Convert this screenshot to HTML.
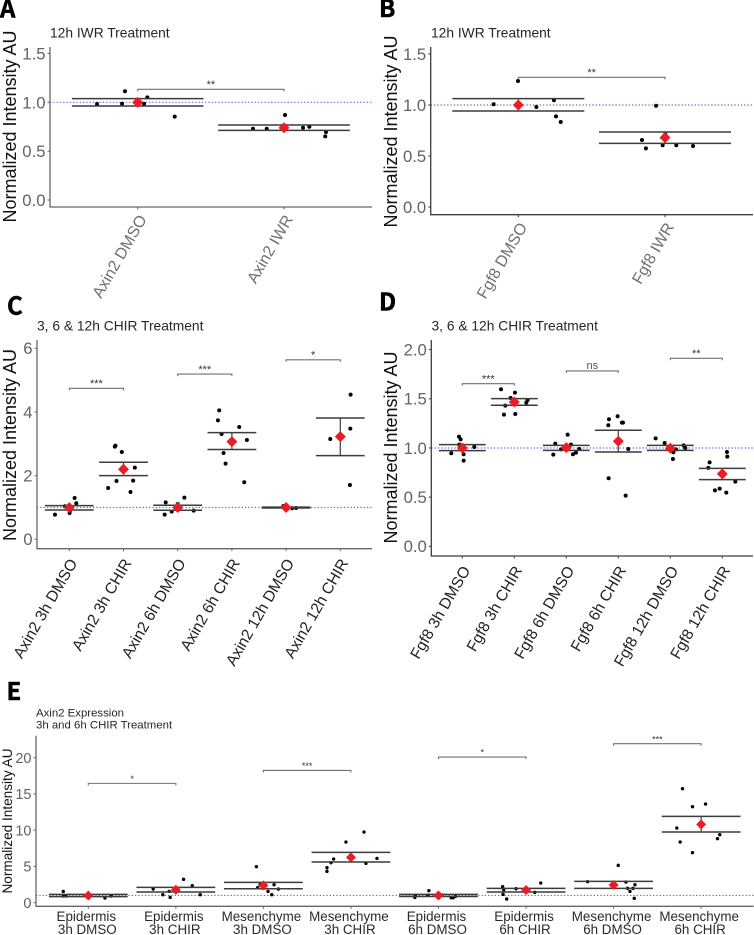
<!DOCTYPE html>
<html lang="en">
<head>
<meta charset="utf-8">
<title>Normalized intensity panels</title>
<style>
html,body{margin:0;padding:0;background:#fff;}
svg{display:block;font-family:"Liberation Sans",sans-serif;filter:blur(0.35px);}
</style>
</head>
<body>
<svg id="figure" width="754" height="935" viewBox="0 0 754 935" xmlns="http://www.w3.org/2000/svg"></svg>
<script>
// ---------- Panel A ----------
const aCategories = ["Axin2 DMSO", "Axin2 IWR"];
const aTicks = [0, 0.5, 1, 1.5];
const aTickLabels = ["0.0", "0.5", "1.0", "1.5"];
const aJitter = [[-0.278,-0.107,-0.087,0.043,0.066,0.253],[-0.212,-0.118,0.007,0.13,0.173,0.287,0.282]];
const aValues = [[0.983,0.986,1.113,0.986,1.051,0.853],[0.73,0.73,0.87,0.74,0.75,0.696,0.652]];
const aMeans = [1.0,0.74];
const aUpper = [1.038,0.768];
const aLower = [0.962,0.713];
const aSigPairs = [[0,1]];
const aSigHeights = [1.133];
const aSigLabels = ["**"];

// ---------- Panel B ----------
const bCategories = ["Fgf8 DMSO", "Fgf8 IWR"];
const bTicks = [0, 0.5, 1, 1.5];
const bTickLabels = ["0.0", "0.5", "1.0", "1.5"];
const bJitter = [[-0.168,-0.002,0.123,0.243,0.257,0.289],[-0.061,0.002,-0.157,-0.13,-0.016,0.077,0.191]];
const bValues = [[1.007,1.235,0.98,1.046,0.889,0.833],[0.993,0.712,0.657,0.575,0.605,0.605,0.598]];
const bMeans = [1.0,0.68];
const bUpper = [1.062,0.735];
const bLower = [0.941,0.624];
const bSigPairs = [[0,1]];
const bSigHeights = [1.271];
const bSigLabels = ["**"];

// ---------- Panel C ----------
const cCategories = ["Axin2 3h DMSO","Axin2 3h CHIR","Axin2 6h DMSO","Axin2 6h CHIR","Axin2 12h DMSO","Axin2 12h CHIR"];
const cTicks = [0,2,4,6];
const cTickLabels = ["0","2","4","6"];
const cJitter = [
 [-0.264,-0.08,0.098,0.129,0.025,0.012,0.006],
 [-0.283,-0.129,0.129,0.178,0.209,-0.031,-0.148,-0.16],
 [-0.24,-0.221,-0.111,0,0.012,0.123,0.295],
 [-0.234,-0.258,-0.191,0.135,0.277,-0.154,-0.117,0.228],
 [-0.049,0.111,0.185],
 [0.19,0.185,-0.185,0.178]];
const cValues = [
 [0.775,1.037,1.298,1.131,1.005,0.9,0.827],
 [1.613,1.832,1.487,1.843,2.251,2.743,2.942,2.911],
 [0.775,1.162,0.869,1.11,1.026,1.309,0.9],
 [4.052,3.738,3.309,3.529,3.12,2.712,2.377,1.791],
 [1.047,0.974,0.984],
 [4.545,3.476,3.152,1.707]];
const cMeans = [0.995,2.2,1.0,3.07,1.0,3.225];
const cUpper = [1.058,2.42,1.068,3.35,1.01,3.81];
const cLower = [0.92,2.0,0.911,2.82,0.985,2.63];
const cSigPairs = [[0,1],[2,3],[4,5]];
const cSigHeights = [4.743,5.19,5.64];
const cSigLabels = ["***","***","*"];

// ---------- Panel D ----------
const dCategories = ["Fgf8 3h DMSO","Fgf8 3h CHIR","Fgf8 6h DMSO","Fgf8 6h CHIR","Fgf8 12h DMSO","Fgf8 12h CHIR"];
const dTicks = [0,0.5,1,1.5,2];
const dTickLabels = ["0.0","0.5","1.0","1.5","2.0"];
const dJitter = [
 [-0.064,-0.032,-0.058,0.013,0.231,-0.212,0.026,0.026],
 [-0.256,0.013,-0.071,-0.173,-0.199,0.019,0.256,0.231],
 [0.026,-0.212,0.09,-0.103,-0.25,0.25,0.186,0.128],
 [-0.013,-0.179,-0.192,0.071,0.09,0.192,-0.186,0.141],
 [-0.282,-0.109,0.013,0.256,0.288,0.109,0.058,0.051],
 [0.09,0.096,-0.244,-0.269,0.25,-0.051,-0.141,0.077]];
const dValues = [
 [1.115,1.088,1.034,1.024,1.01,0.946,0.936,0.871],
 [1.597,1.563,1.508,1.431,1.339,1.346,1.488,1.461],
 [1.136,1.044,1.034,0.986,0.932,0.99,0.953,0.936],
 [1.322,1.292,1.231,1.258,1.258,0.99,0.692,0.515],
 [1.098,1.051,1.01,1.027,1.0,0.986,0.956,0.888],
 [0.959,0.912,0.854,0.797,0.658,0.586,0.569,0.546]];
const dMeans = [1.0,1.468,1.003,1.068,0.997,0.736];
const dUpper = [1.034,1.502,1.027,1.18,1.027,0.793];
const dLower = [0.973,1.434,0.976,0.959,0.976,0.678];
const dSigPairs = [[0,1],[2,3],[4,5]];
const dSigHeights = [1.654,1.783,1.912];
const dSigLabels = ["***","ns","**"];

// ---------- Panel E ----------
const eCategoryTop = ["Epidermis","Epidermis","Mesenchyme","Mesenchyme","Epidermis","Epidermis","Mesenchyme","Mesenchyme"];
const eCategoryBottom = ["3h DMSO","3h CHIR","3h DMSO","3h CHIR","6h DMSO","6h CHIR","6h DMSO","6h CHIR"];
const eTicks = [0,5,10,15,20];
const eTickLabels = ["0","5","10","15","20"];
const eJitter = [
 [-0.286,-0.286,-0.255,0.019,0.008,0.19,0.263],
 [-0.259,-0.149,-0.076,-0.065,0.008,0.088,0.187,0.278],
 [-0.08,-0.038,-0.065,0,0.053,0.095,0.122,0.171],
 [0.149,-0.057,-0.198,-0.228,-0.274,-0.274,0.171,0.297],
 [-0.11,-0.263,-0.27,-0.122,0.042,0.145,0.167,0.194],
 [-0.267,-0.255,-0.263,-0.221,-0.114,0.099,0.168],
 [-0.297,0.053,0.141,0.16,0.187,0.221,0.244,0.236],
 [-0.213,0.05,-0.099,-0.278,-0.24,0.213,0.187,-0.099]];
const eValues = [
 [1.56,0.92,0.92,0.92,0.74,0.64,0.92],
 [1.885,1.1,1.56,0.74,2.02,3.22,2.34,1.1],
 [4.97,2.48,2.07,1.98,1.56,1.1,2.48,1.885],
 [9.75,8.37,6.02,5.52,4.83,4.32,5.43,6.11],
 [1.66,1.01,0.74,1.06,1.06,0.69,0.69,0.87],
 [2.2,1.79,1.15,0.51,1.93,1.43,2.71],
 [2.9,5.15,2.85,1.98,1.56,1.98,2.48,0.6],
 [15.72,13.61,13.24,10.3,8.37,9.38,8.83,6.9]];
const eMeans = [1.0,1.79,2.39,6.25,1.0,1.75,2.44,10.8];
const eUpper = [1.15,2.11,2.8,6.94,1.15,1.98,2.94,11.91];
const eLower = [0.83,1.47,1.93,5.61,0.85,1.47,1.98,9.75];
const eSigPairs = [[0,1],[2,3],[4,5],[6,7]];
const eSigHeights = [16.46,18.25,20.09,21.93];
const eSigLabels = ["*","***","*","***"];

const NS = "http://www.w3.org/2000/svg";
const figure = document.getElementById("figure");

function make(parent, tag, attrs, text) {
  const node = document.createElementNS(NS, tag);
  for (const k in attrs) node.setAttribute(k, attrs[k]);
  if (text !== undefined) node.textContent = text;
  parent.appendChild(node);
  return node;
}

function drawPanel(p) {
  const g = make(figure, "g", {});
  
  

  const xScale = i => p.xStart + i * p.xStep;
  const yScale = v => p.yZero - v * p.yUnit;

  // reference line at 1
  const ref = make(g, "line", {x1:p.left, x2:p.right, y1:yScale(1), y2:yScale(1), stroke:"#6464e0", "stroke-width":1.2, "stroke-dasharray":"1.3 2"});
  
  

  // axes
  const yAxis = make(g, "line", {x1:p.left, x2:p.left, y1:p.top, y2:p.bottom, stroke:p.axisColor, "stroke-width":1.3});
  
  
  const xAxis = make(g, "line", {x1:p.left-0.6, x2:p.right, y1:p.bottom, y2:p.bottom, stroke:p.axisColor, "stroke-width":1.3});
  
  

  // y ticks
  p.ticks.forEach((t, i) => {
    const y = yScale(t);
    const tick = make(g, "line", {x1:p.left-2.5, x2:p.left, y1:y, y2:y, stroke:p.axisColor, "stroke-width":1});
    
    
    const label = make(g, "text", {x:p.left-4.5, y:y+p.tickSize*0.355, "text-anchor":"end", "font-size":p.tickSize, fill:"#636363"}, p.tickLabels[i]);
    
    
  });

  // x ticks and labels
  p.means.forEach((m, i) => {
    const x = xScale(i);
    const tick = make(g, "line", {x1:x, x2:x, y1:p.bottom, y2:p.bottom+2.5, stroke:p.axisColor, "stroke-width":1});
    
    
    if (p.categories) {
      const ax = x + 8.5 + p.catDx, ay = p.bottom + 14 + p.catDy;
      const label = make(g, "text", {x:ax, y:ay, "text-anchor":"end", "font-size":p.catSize, fill:p.catColor, transform:"rotate(-60 "+ax+" "+ay+")"}, p.categories[i]);
      
      
    } else {
      const label1 = make(g, "text", {x:x-2, y:920.8, "text-anchor":"middle", "font-size":p.catSize, fill:p.catColor}, p.catTop[i]);
      
      
      const label2 = make(g, "text", {x:x-1, y:934.2, "text-anchor":"middle", "font-size":p.catSize, fill:p.catColor}, p.catBottom[i]);
      
      
    }
  });

  // points
  p.values.forEach((series, i) => {
    series.forEach((v, j) => {
      const dot = make(g, "circle", {cx:xScale(i + p.jitter[i][j]), cy:yScale(v), r:p.dotR, fill:"#000"});
      
      
    });
  });

  // error bars and means
  p.means.forEach((m, i) => {
    const x = xScale(i), hw = 0.45 * p.xStep;
    const hi = yScale(p.upper[i]), lo = yScale(p.lower[i]), my = yScale(m);
    const stem = make(g, "line", {x1:x, x2:x, y1:hi, y2:lo, stroke:"#3c3c3c", "stroke-width":1.2});
    
    
    const capHi = make(g, "line", {x1:x-hw, x2:x+hw, y1:hi, y2:hi, stroke:"#3c3c3c", "stroke-width":1.5});
    
    
    const capLo = make(g, "line", {x1:x-hw, x2:x+hw, y1:lo, y2:lo, stroke:"#3c3c3c", "stroke-width":1.5});
    
    
    const d = p.diamond;
    const mean = make(g, "polygon", {points:[x+","+(my-d), (x+d)+","+my, x+","+(my+d), (x-d)+","+my].join(" "), fill:"#ec1c24"});
    
    
  });

  // significance brackets
  p.sigPairs.forEach((pair, i) => {
    const x1 = xScale(pair[0]), x2 = xScale(pair[1]), y = yScale(p.sigHeights[i]);
    const bracket = make(g, "path", {d:"M"+x1+" "+(y+2)+"V"+y+"H"+x2+"V"+(y+2), fill:"none", stroke:"#707070", "stroke-width":1.1});
    
    
    const isNs = p.sigLabels[i] === "ns";
    const sig = make(g, "text", {x:(x1+x2)/2, y:isNs ? y-1.8 : y-p.sigDrop, "text-anchor":"middle", "font-size":isNs ? 11 : p.sigSize, fill:isNs ? "#555" : "#333"}, p.sigLabels[i]);
    
    
  });

  // axis title
  const titleY = make(g, "text", {x:p.yTitleX, y:p.yTitleY, "text-anchor":"middle", "font-size":p.yTitleSize, fill:"#111", transform:"rotate(-90 "+p.yTitleX+" "+p.yTitleY+")"}, "Normalized Intensity AU");
  
  

  // plot title lines
  p.title.forEach((line, i) => {
    const t = make(g, "text", {x:p.titleX, y:p.titleY + i*12, "font-size":p.titleSize, fill:"#262626"}, line);
    
    
  });

  // panel letter
  const letter = make(g, "text", {x:p.letterX, y:p.letterY, "font-size":24, "font-weight":700, fill:"#000", stroke:"#000", "stroke-width":0.5, "font-family":'"Noto Sans CJK JP","Liberation Sans",sans-serif'}, p.letter);
  
  
}

const base = {dotR:2, diamond:5.5, tickSize:16.7, sigSize:11, sigDrop:1.3, yTitleSize:18, titleSize:13.8, catSize:15.6, catColor:"#222", catDx:0, catDy:0, axisColor:"#666"};

drawPanel(Object.assign({}, base, {letter:"A", letterX:0, letterY:17.5, left:50, right:372, top:47, bottom:207,
  xStart:137.7, xStep:146.3, yZero:200, yUnit:97.67, yTitleX:16, yTitleY:126.5,
  title:["12h IWR Treatment"], titleX:50, titleY:37.5, catSize:16, catColor:"#707070", catDx:1, catDy:-2,
  categories:aCategories, ticks:aTicks, tickLabels:aTickLabels, jitter:aJitter, values:aValues, means:aMeans, upper:aUpper, lower:aLower,
  sigPairs:aSigPairs, sigHeights:aSigHeights, sigLabels:aSigLabels}));

drawPanel(Object.assign({}, base, {letter:"B", letterX:379, letterY:17, left:430.7, right:753, top:47, bottom:214.7, axisColor:"#3c3c3c",
  xStart:518.3, xStep:146.7, yZero:207, yUnit:102, yTitleX:397, yTitleY:131.5,
  title:["12h IWR Treatment"], titleX:431, titleY:37.5, catSize:16, catColor:"#707070", catDx:1, catDy:-2,
  categories:bCategories, ticks:bTicks, tickLabels:bTickLabels, jitter:bJitter, values:bValues, means:bMeans, upper:bUpper, lower:bLower,
  sigPairs:bSigPairs, sigHeights:bSigHeights, sigLabels:bSigLabels}));

drawPanel(Object.assign({}, base, {letter:"C", letterX:7, letterY:314.5, left:37, right:372, top:340, bottom:548.7,
  xStart:69.3, xStep:54.2, yZero:539.3, yUnit:31.83, yTitleX:16, yTitleY:445,
  title:["3, 6 & 12h CHIR Treatment"], titleX:37, titleY:330.5,
  categories:cCategories, ticks:cTicks, tickLabels:cTickLabels, jitter:cJitter, values:cValues, means:cMeans, upper:cUpper, lower:cLower,
  sigPairs:cSigPairs, sigHeights:cSigHeights, sigLabels:cSigLabels}));

drawPanel(Object.assign({}, base, {letter:"D", letterX:379, letterY:310.5, left:431.3, right:753, top:340, bottom:556, axisColor:"#3c3c3c",
  xStart:462.3, xStep:52, yZero:546.3, yUnit:98.33, yTitleX:397, yTitleY:447.5,
  title:["3, 6 & 12h CHIR Treatment"], titleX:431.5, titleY:330.5,
  categories:dCategories, ticks:dTicks, tickLabels:dTickLabels, jitter:dJitter, values:dValues, means:dMeans, upper:dUpper, lower:dLower,
  sigPairs:dSigPairs, sigHeights:dSigHeights, sigLabels:dSigLabels}));

drawPanel(Object.assign({}, base, {letter:"E", letterX:6.5, letterY:700, left:36, right:753.7, top:735.7, bottom:906.3,
  xStart:88.3, xStep:87.55, yZero:902.7, yUnit:7.25, yTitleX:12, yTitleY:821,
  title:["Axin2 Expression","3h and 6h CHIR Treatment"], titleX:36, titleY:716.5, titleSize:11.4,
  dotR:1.7, diamond:5, tickSize:14.5, yTitleSize:13.6, catSize:13.4, catColor:"#2a2a2a", sigSize:9, sigDrop:1.4,
  catTop:eCategoryTop, catBottom:eCategoryBottom, ticks:eTicks, tickLabels:eTickLabels, jitter:eJitter, values:eValues, means:eMeans, upper:eUpper, lower:eLower,
  sigPairs:eSigPairs, sigHeights:eSigHeights, sigLabels:eSigLabels}));
</script>
</body>
</html>
